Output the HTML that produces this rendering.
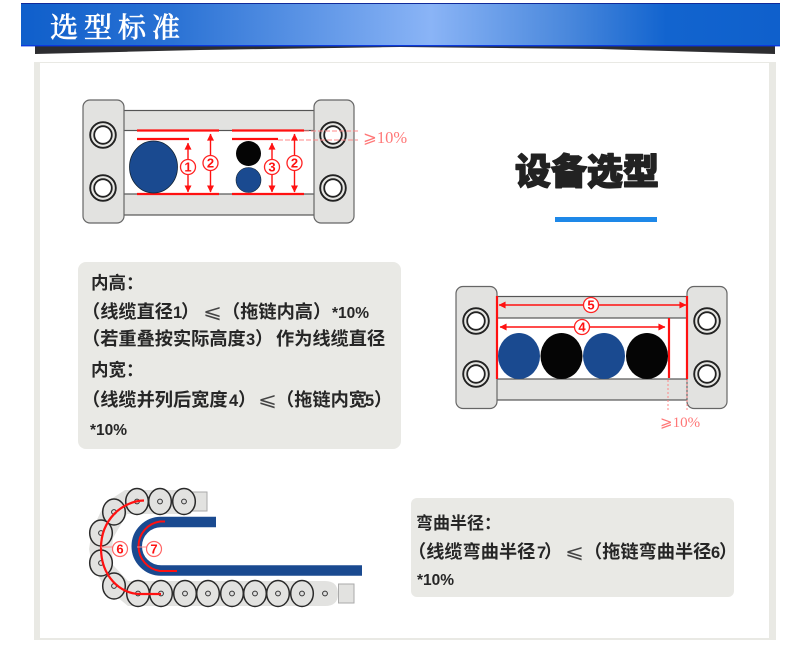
<!DOCTYPE html>
<html><head><meta charset="utf-8"><style>
html,body{margin:0;padding:0;background:#fff;width:799px;height:650px;overflow:hidden}
svg{display:block;filter:blur(.35px)}
.t{font-family:"Noto Sans CJK SC","Liberation Sans",sans-serif;font-size:18.2px;font-weight:700;fill:#262626}
.d{font-family:"Liberation Sans",sans-serif;font-size:16.5px;font-weight:700;fill:#262626}
.s{font-family:"Liberation Sans","DejaVu Sans",sans-serif;font-size:19px;font-weight:400;fill:#444}
.n{font-family:"Liberation Sans",sans-serif;font-size:13px;fill:#f11;text-anchor:middle;font-weight:700}
.p{font-family:"Liberation Serif","DejaVu Serif",serif;fill:#f77}
</style></head><body>
<svg width="799" height="650" viewBox="0 0 799 650" xmlns="http://www.w3.org/2000/svg">
<defs>
<linearGradient id="h" x1="0" x2="1" y1="0" y2="0">
<stop offset="0" stop-color="#0f5fcb"/><stop offset=".2" stop-color="#2a72d4"/><stop offset=".54" stop-color="#8ab4f6"/><stop offset=".72" stop-color="#4a88dc"/><stop offset=".85" stop-color="#1264cf"/><stop offset="1" stop-color="#0f60cc"/>
</linearGradient>
<marker id="a" viewBox="0 0 8 8" refX="7.500" refY="4" markerWidth="9" markerHeight="7" orient="auto-start-reverse" markerUnits="userSpaceOnUse"><path d="M0 0L8 4L0 8Z" fill="#f11"/></marker>
<g id="hole"><circle r="12.800" fill="#e6e6e3" stroke="#222" stroke-width="1.900"/><circle r="8.800" fill="#fff" stroke="#222" stroke-width="1.800"/></g>
<g id="lk"><ellipse rx="11.300" ry="13" fill="#e2e2e0" stroke="#2a2a2a" stroke-width="1.500"/><circle r="2.400" fill="#ddd" stroke="#333" stroke-width="1"/></g>
</defs>

<!-- header -->
<path d="M35 46V54L200 50L400 47L600 49L775 54V46Z" fill="#2d2d30"/>
<rect x="21" y="3" width="759" height="43" fill="url(#h)"/>
<rect x="21" y="3" width="759" height="1" fill="#102a9a"/>
<rect x="21" y="45" width="759" height="1.400" fill="#0b3ae0"/>
<text x="50" y="37" font-family="'Noto Serif CJK SC',serif" font-size="28" fill="#fff" stroke="#fff" stroke-width=".5" letter-spacing="6" font-weight="500">选型标准</text>

<!-- panel -->
<rect x="34" y="62" width="742" height="578" fill="#e9e9e4"/>
<rect x="40" y="63" width="729" height="575" fill="#fff"/>

<!-- diagram 1 -->
<rect x="122" y="110.500" width="194" height="20" fill="#e2e2e0" stroke="#555" stroke-width="1.200"/>
<rect x="122" y="194" width="194" height="21" fill="#e2e2e0" stroke="#555" stroke-width="1.200"/>
<rect x="83" y="100" width="41" height="123" rx="7" fill="#e2e2e0" stroke="#666" stroke-width="1.200"/>
<rect x="314" y="100" width="40" height="123" rx="7" fill="#e2e2e0" stroke="#666" stroke-width="1.200"/>
<use href="#hole" x="103" y="135"/><use href="#hole" x="103" y="188"/>
<use href="#hole" x="333" y="135"/><use href="#hole" x="333" y="188"/>
<path d="M304 131H358M278 140H358" stroke="#f88" stroke-width="1" stroke-dasharray="5 2" fill="none"/>
<path d="M137 130.500H219M137 139H189M137 194H219M232 130.500H304M232 139H278M232 194H304" stroke="#f11" stroke-width="2.200" fill="none"/>
<ellipse cx="153.500" cy="167" rx="24" ry="26" fill="#1a4a90" stroke="#123" stroke-width=".8"/>
<circle cx="248.500" cy="153.500" r="12.500" fill="#050505"/>
<circle cx="248.500" cy="180" r="12.500" fill="#1a4a90" stroke="#123" stroke-width=".6"/>
<g stroke="#f11" stroke-width="1.400" fill="none">
<path d="M188 143V192" marker-start="url(#a)" marker-end="url(#a)"/>
<path d="M210.500 134V192" marker-start="url(#a)" marker-end="url(#a)"/>
<path d="M272 143V192" marker-start="url(#a)" marker-end="url(#a)"/>
<path d="M294.500 134V192" marker-start="url(#a)" marker-end="url(#a)"/>
</g>
<g fill="#fff" stroke="#f22" stroke-width="1.300">
<circle cx="188" cy="167" r="7.500"/><circle cx="210.500" cy="163" r="7.500"/><circle cx="272" cy="167" r="7.500"/><circle cx="294.500" cy="163" r="7.500"/>
</g>
<text class="n" x="188" y="171.700">1</text><text class="n" x="210.500" y="167.700">2</text><text class="n" x="272" y="171.700">3</text><text class="n" x="294.500" y="167.700">2</text>
<text class="p" x="363" y="143" font-size="16.500">⩾10%</text>

<!-- title -->
<text x="515" y="184" font-family="'Noto Sans CJK SC',sans-serif" font-weight="900" font-size="36" fill="#222" stroke="#222" stroke-width="1.400" stroke-linejoin="round">设备选型</text>
<rect x="555" y="217" width="102" height="5" fill="#1e88e8"/>

<!-- box 1 -->
<rect x="78" y="262" width="323" height="187" rx="8" fill="#e9e9e5"/>
<text class="t" x="91" y="289" style="font-size:17.500px">内高：</text>
<text class="t" x="82" y="318">（线缆直径</text><text class="d" x="173" y="318">1</text><text class="t" x="181" y="318">）</text>
<text class="s" x="203" y="318" textLength="19" lengthAdjust="spacingAndGlyphs">⩽</text>
<text class="t" x="222" y="318">（拖链内高</text><text class="t" x="313" y="318">）</text><text class="d" x="332" y="318" style="font-size:15.500px">*10%</text>
<text class="t" x="82" y="345">（若重叠按实际高度</text><text class="d" x="246" y="345">3</text><text class="t" x="255" y="345">）</text><text class="t" x="276" y="345">作为线缆直径</text>
<text class="t" x="91" y="376" style="font-size:17.500px">内宽：</text>
<text class="t" x="82" y="406">（线缆并列后宽度</text><text class="d" x="229" y="406">4</text><text class="t" x="238" y="406">）</text>
<text class="s" x="258" y="406" textLength="19" lengthAdjust="spacingAndGlyphs">⩽</text>
<text class="t" x="276" y="406">（拖链内宽</text><text class="d" x="365" y="406">5</text><text class="t" x="374" y="406">）</text>
<text class="d" x="90" y="435" style="font-size:15.500px">*10%</text>

<!-- diagram 2 -->
<rect x="495" y="296.500" width="194" height="21.500" fill="#e2e2e0" stroke="#555" stroke-width="1.200"/>
<rect x="495" y="379" width="194" height="21" fill="#e2e2e0" stroke="#555" stroke-width="1.200"/>
<rect x="456" y="286.500" width="41" height="122" rx="7" fill="#e2e2e0" stroke="#666" stroke-width="1.200"/>
<rect x="687" y="286.500" width="40" height="122" rx="7" fill="#e2e2e0" stroke="#666" stroke-width="1.200"/>
<use href="#hole" x="476" y="321"/><use href="#hole" x="476" y="374"/>
<use href="#hole" x="707" y="321"/><use href="#hole" x="707" y="374"/>
<path d="M668 380V412M687 380V412" stroke="#f88" stroke-width="1" stroke-dasharray="2 2" fill="none"/>
<path d="M497 296V379M687 296V379M669 318V378" stroke="#f11" stroke-width="2.200" fill="none"/>
<ellipse cx="519" cy="356" rx="21" ry="23" fill="#1a4a90"/>
<ellipse cx="561.500" cy="356" rx="21" ry="23" fill="#050505"/>
<ellipse cx="604" cy="356" rx="21" ry="23" fill="#1a4a90"/>
<ellipse cx="647" cy="356" rx="21" ry="23" fill="#050505"/>
<path d="M499 305H686" stroke="#f11" stroke-width="1.400" marker-start="url(#a)" marker-end="url(#a)"/>
<path d="M500 327H665" stroke="#f11" stroke-width="1.400" marker-start="url(#a)" marker-end="url(#a)"/>
<g fill="#fff" stroke="#f22" stroke-width="1.300"><circle cx="591" cy="305" r="7.500"/><circle cx="582" cy="327" r="7.500"/></g>
<text class="n" x="591" y="309.700">5</text><text class="n" x="582" y="331.700">4</text>
<text class="p" x="660" y="427" font-size="15">⩾10%</text>

<!-- diagram 3 chain -->
<path d="M191 490H125L105 503L92 530L89 549L92 566L105 587L128 606H325Q338 606 338 594Q338 581 325 581H128L113 565L112 549L113 538L127 514H191Z" fill="#e2e2e0"/>
<rect x="191.500" y="492" width="15.500" height="19" fill="#e2e2e0" stroke="#aaa" stroke-width="1"/>
<rect x="338.500" y="584" width="15.500" height="19" fill="#e2e2e0" stroke="#aaa" stroke-width="1"/>
<use href="#lk" x="184" y="501.500"/><use href="#lk" x="160" y="501.500"/><use href="#lk" x="137" y="501.500"/>
<use href="#lk" x="114" y="512"/><use href="#lk" x="101" y="533"/><use href="#lk" x="101" y="563"/><use href="#lk" x="114" y="586"/>
<use href="#lk" x="302" y="593.500"/><use href="#lk" x="278" y="593.500"/><use href="#lk" x="255" y="593.500"/><use href="#lk" x="232" y="593.500"/><use href="#lk" x="208" y="593.500"/><use href="#lk" x="185" y="593.500"/><use href="#lk" x="161" y="593.500"/><use href="#lk" x="138" y="593.500"/>
<circle cx="325" cy="593.500" r="2.400" fill="#ddd" stroke="#333" stroke-width="1"/>
<path d="M216 522H161A24 24 0 0 0 161 570.500H362" fill="none" stroke="#1a4a90" stroke-width="10.500"/>
<path d="M165 521.500H160A25 25 0 0 0 160 571H177" fill="none" stroke="#f11" stroke-width="2"/>
<path d="M144 500.500C122 501 101 520 101 548C101 576 120 594 140 594H161" fill="none" stroke="#f11" stroke-width="2.200"/>
<path d="M101 547H113M137 547H148" stroke="#f88" stroke-width="1"/>
<g fill="#fff" stroke="#f66" stroke-width="1.200"><circle cx="120" cy="549" r="7.500"/><circle cx="154" cy="549" r="7.500"/></g>
<text class="n" x="120" y="553.700">6</text><text class="n" x="154" y="553.700">7</text>

<!-- box 2 -->
<rect x="411" y="498" width="323" height="99" rx="6" fill="#e9e9e5"/>
<text class="t" x="416" y="529" style="font-size:17px">弯曲半径：</text>
<text class="t" x="408" y="558">（线缆弯曲半径</text><text class="d" x="537" y="558">7</text><text class="t" x="544" y="558">）</text>
<text class="s" x="565" y="558" textLength="19" lengthAdjust="spacingAndGlyphs">⩽</text>
<text class="t" x="584" y="558">（拖链弯曲半径</text><text class="d" x="711" y="558">6</text><text class="t" x="719" y="558">）</text>
<text class="d" x="417" y="585" style="font-size:15.500px">*10%</text>
</svg>
</body></html>
